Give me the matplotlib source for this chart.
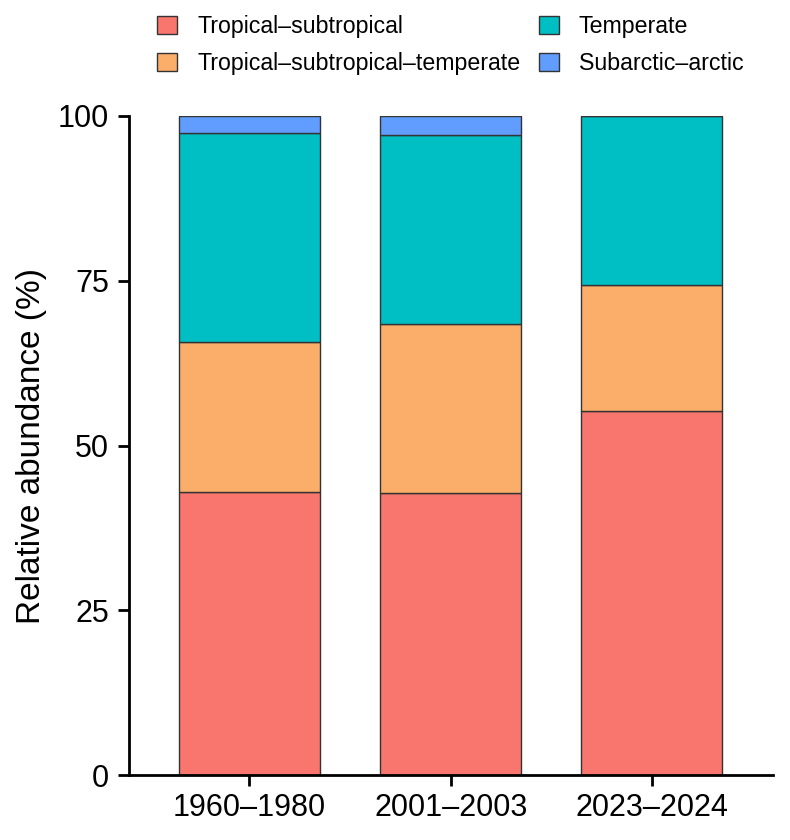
import matplotlib
matplotlib.use("Agg")
import matplotlib.pyplot as plt
import numpy as np

plt.rcParams['font.family'] = ['Liberation Sans', 'DejaVu Sans']

periods = ["1960–1980", "2001–2003", "2023–2024"]
groups = ["Tropical–subtropical", "Tropical–subtropical–temperate",
          "Temperate", "Subarctic–arctic"]
tropical = [42.9, 42.8, 55.2]
trop_temperate = [22.8, 25.6, 19.2]
temperate = [31.7, 28.7, 25.6]
subarctic = [2.6, 2.9, 0.0]
colors = ["#F8766D", "#FBAE6A", "#00BFC4", "#619CFF"]

fig = plt.figure(figsize=(7.9, 8.4), dpi=100)
ax = fig.add_axes([0.163, 0.077, 0.815, 0.785])

x = np.arange(len(periods))
bottom = np.zeros(len(periods))
handles = []
for vals, col, lab in zip([tropical, trop_temperate, temperate, subarctic], colors, groups):
    b = ax.bar(x, vals, bottom=bottom, width=0.70, color=col,
               edgecolor="#333333", linewidth=1.0, label=lab)
    handles.append(b)
    bottom += np.array(vals)

ax.set_xlim(-0.6, 2.6)
ax.set_ylim(0, 100)
ax.set_yticks([0, 25, 50, 75, 100])
ax.set_xticks(x)
ax.set_xticklabels(periods)
ax.set_ylabel("Relative abundance (%)", fontsize=24, labelpad=8)
ax.tick_params(axis="both", labelsize=22, width=2, length=8, direction="out")
ax.tick_params(axis="y", pad=6)
ax.tick_params(axis="x", pad=5)
for s in ["top", "right"]:
    ax.spines[s].set_visible(False)
for s in ["left", "bottom"]:
    ax.spines[s].set_linewidth(2)

# legend order: col1 = red, orange; col2 = teal, blue
fig.legend(handles, groups, ncol=2, loc="center left", bbox_to_anchor=(0.199, 0.946),
           frameon=False, fontsize=16.7, handlelength=0.86, handleheight=0.82,
           columnspacing=0.8, handletextpad=0.86, labelspacing=0.6,
           borderpad=0, borderaxespad=0)

fig.savefig("out.png", dpi=100)
